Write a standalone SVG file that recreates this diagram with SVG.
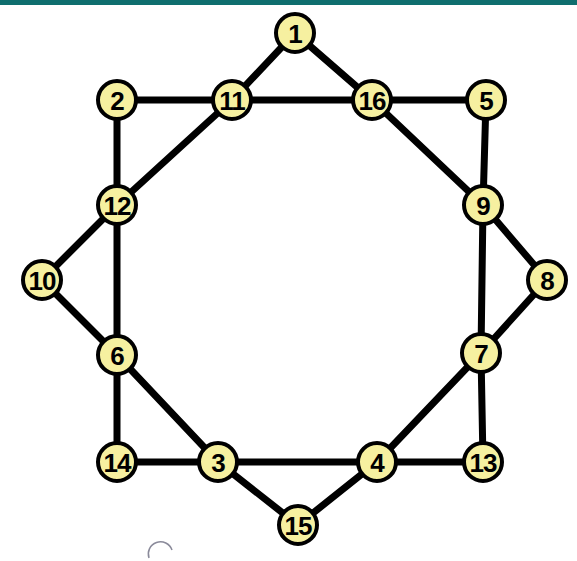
<svg xmlns="http://www.w3.org/2000/svg" width="577" height="561" viewBox="0 0 577 561">
<style>
.e{stroke:#000;stroke-width:7;fill:none;stroke-linecap:round}
.n circle{fill:#f6f0a0;stroke:#000;stroke-width:4}
.n text{font-family:"Liberation Sans",Arial,sans-serif;font-size:26px;font-weight:bold;fill:#000;text-anchor:middle;dominant-baseline:central;letter-spacing:-1px}
</style>
<rect x="0" y="0" width="577" height="561" fill="#fff"/>
<rect x="0" y="0" width="577" height="5" fill="#0f6e6e"/>
<g id="connectors">
<line class="e" x1="295" y1="33" x2="232" y2="100"/>
<line class="e" x1="295" y1="33" x2="372" y2="100"/>
<line class="e" x1="117" y1="100" x2="232" y2="100"/>
<line class="e" x1="232" y1="100" x2="372" y2="100"/>
<line class="e" x1="372" y1="100" x2="486" y2="100"/>
<line class="e" x1="117" y1="100" x2="117" y2="205"/>
<line class="e" x1="232" y1="100" x2="117" y2="205"/>
<line class="e" x1="372" y1="100" x2="483" y2="205"/>
<line class="e" x1="486" y1="100" x2="483" y2="205"/>
<line class="e" x1="117" y1="205" x2="42" y2="280"/>
<line class="e" x1="117" y1="205" x2="117" y2="355"/>
<line class="e" x1="42" y1="280" x2="117" y2="355"/>
<line class="e" x1="483" y1="205" x2="547" y2="280"/>
<line class="e" x1="483" y1="205" x2="481" y2="353"/>
<line class="e" x1="547" y1="280" x2="481" y2="353"/>
<line class="e" x1="117" y1="355" x2="117" y2="462"/>
<line class="e" x1="117" y1="355" x2="218" y2="462"/>
<line class="e" x1="481" y1="353" x2="377" y2="462"/>
<line class="e" x1="481" y1="353" x2="483" y2="462"/>
<line class="e" x1="117" y1="462" x2="218" y2="462"/>
<line class="e" x1="218" y1="462" x2="377" y2="462"/>
<line class="e" x1="377" y1="462" x2="483" y2="462"/>
<line class="e" x1="218" y1="462" x2="298" y2="525"/>
<line class="e" x1="377" y1="462" x2="298" y2="525"/>
</g>
<g id="n1" class="n"><circle cx="295" cy="33" r="19"/><text x="295" y="34">1</text></g>
<g id="n2" class="n"><circle cx="117" cy="100" r="19"/><text x="117" y="101">2</text></g>
<g id="n11" class="n"><circle cx="232" cy="100" r="19"/><text x="232" y="101">11</text></g>
<g id="n16" class="n"><circle cx="372" cy="100" r="19"/><text x="372" y="101">16</text></g>
<g id="n5" class="n"><circle cx="486" cy="100" r="19"/><text x="486" y="101">5</text></g>
<g id="n12" class="n"><circle cx="117" cy="205" r="19"/><text x="117" y="206">12</text></g>
<g id="n9" class="n"><circle cx="483" cy="205" r="19"/><text x="483" y="206">9</text></g>
<g id="n10" class="n"><circle cx="42" cy="280" r="19"/><text x="42" y="281">10</text></g>
<g id="n8" class="n"><circle cx="547" cy="280" r="19"/><text x="547" y="281">8</text></g>
<g id="n6" class="n"><circle cx="117" cy="355" r="19"/><text x="117" y="356">6</text></g>
<g id="n7" class="n"><circle cx="481" cy="353" r="19"/><text x="481" y="354">7</text></g>
<g id="n14" class="n"><circle cx="117" cy="462" r="19"/><text x="117" y="463">14</text></g>
<g id="n3" class="n"><circle cx="218" cy="462" r="19"/><text x="218" y="463">3</text></g>
<g id="n4" class="n"><circle cx="377" cy="462" r="19"/><text x="377" y="463">4</text></g>
<g id="n13" class="n"><circle cx="483" cy="462" r="19"/><text x="483" y="463">13</text></g>
<g id="n15" class="n"><circle cx="298" cy="525" r="19"/><text x="298" y="526">15</text></g>
<path d="M149 558 A10 10 0 0 1 172 550" fill="none" stroke="#8a8a9a" stroke-width="1.5"/>
</svg>
